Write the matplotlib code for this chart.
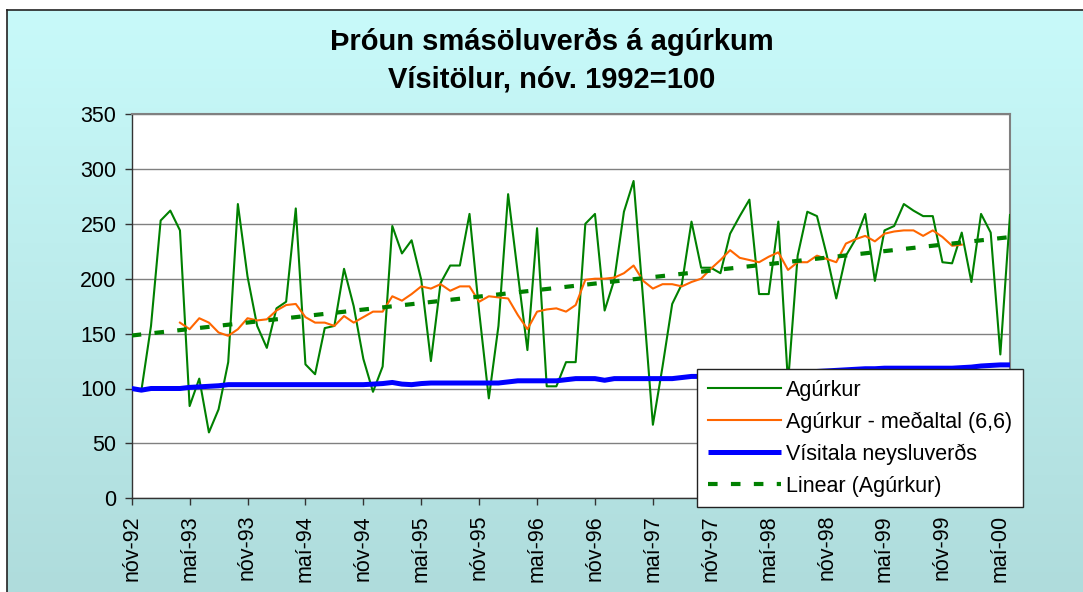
import matplotlib
matplotlib.use('Agg')
import matplotlib.pyplot as plt
import numpy as np

plt.rcParams['font.family'] = ['Liberation Sans', 'DejaVu Sans']

# monthly values, nóv-92 .. jún-00
agurkur = [100, 98, 157, 253, 262, 244, 84, 109, 60, 81,
           124, 268, 202, 157, 137, 173, 179, 264, 122, 113,
           155, 157, 209, 175, 127, 97, 120, 248, 223, 235,
           199, 125, 196, 212, 212, 259, 170, 91, 157, 277,
           205, 135, 246, 102, 102, 124, 124, 250, 259, 171,
           199, 261, 289, 180, 67, 120, 177, 195, 252, 210,
           210, 205, 241, 257, 272, 186, 186, 252, 105, 221,
           261, 257, 222, 182, 221, 236, 259, 198, 244, 248,
           268, 262, 257, 257, 215, 214, 242, 197, 259, 242,
           131, 258]

medaltal = [None, None, None, None, None, 160, 154, 164, 160, 151,
            148, 154, 164, 162, 163, 171, 176, 177, 165, 160,
            160, 157, 166, 160, 165, 170, 170, 184, 180, 186,
            193, 191, 195, 189, 193, 193, 179, 184, 183, 182,
            167, 154, 170, 172, 173, 170, 176, 199, 200, 200,
            201, 205, 212, 198, 191, 195, 195, 193, 197, 200,
            209, 217, 226, 219, 217, 215, 220, 224, 208, 215,
            215, 221, 218, 215, 232, 236, 239, 234, 241, 243,
            244, 244, 239, 244, 238, 230, 231, None, None, None,
            None, None]

visitala = [100, 98.5, 100, 100, 100, 100, 101, 101.5, 102, 102.5,
            103.5, 103.5, 103.5, 103.5, 103.5, 103.5, 103.5, 103.5, 103.5, 103.5,
            103.5, 103.5, 103.5, 103.5, 103.5, 104, 104.5, 105.5, 104, 103.5,
            104.5, 105, 105, 105, 105, 105, 105, 105, 105, 106,
            107, 107, 107, 107, 107, 108, 109, 109, 109, 107.5,
            109, 109, 109, 109, 109, 109, 109, 110, 111, 111,
            111, 111.5, 112, 112, 112.5, 113, 113, 113.5, 114, 114.5,
            115, 115.5, 116, 116.5, 117, 117.5, 118, 118, 118.5, 118.5,
            118.5, 118.5, 118.5, 118.5, 118.5, 118.5, 119, 119.5, 120.5, 121,
            121.5, 121.5]

tick_labels = ['nóv-92', 'maí-93', 'nóv-93', 'maí-94', 'nóv-94', 'maí-95',
               'nóv-95', 'maí-96', 'nóv-96', 'maí-97', 'nóv-97', 'maí-98',
               'nóv-98', 'maí-99', 'nóv-99', 'maí-00']

x = np.arange(len(agurkur))
ma = np.array([np.nan if v is None else v for v in medaltal], dtype=float)
coef = np.polyfit(x, agurkur, 1)
trend = np.polyval(coef, x)

W, H = 1083, 592
fig = plt.figure(figsize=(W / 100, H / 100), dpi=100)

# gradient background with border
bg = fig.add_axes([7 / W, 0, 1 - 7 / W, 1 - 10 / H])
top = np.array([200, 250, 250]) / 255
bot = np.array([175, 220, 220]) / 255
t = np.linspace(0, 1, 256)[:, None]
grad = (top[None, :] * (1 - t) + bot[None, :] * t)[:, None, :]
bg.imshow(grad, aspect='auto', extent=[0, 1, 0, 1])
bg.set_xticks([])
bg.set_yticks([])
for s in ['right', 'bottom']:
    bg.spines[s].set_visible(False)
for s in ['left', 'top']:
    bg.spines[s].set_color('#222222')
    bg.spines[s].set_linewidth(1.2)

ax = fig.add_axes([131.7 / W, 1 - 498.3 / H, (1010 - 131.7) / W, (498.3 - 114) / H])
ax.set_facecolor('white')

l1, = ax.plot(x, agurkur, color='#008000', lw=1.5, zorder=3)
l3, = ax.plot(x, visitala, color='#0000FF', lw=3.6, zorder=4, solid_capstyle='butt')
l2, = ax.plot(x, ma, color='#FF6600', lw=1.5, zorder=5)
l4, = ax.plot(x, trend, color='#008000', lw=3.0, linestyle=(0, (2.3, 3.2)),
              dash_capstyle='butt', zorder=5)

ax.set_xlim(0, len(agurkur) - 1)
ax.set_ylim(0, 350)
ax.set_yticks(np.arange(0, 351, 50))
ax.yaxis.grid(True, color='#808080', lw=1.0)
ax.set_axisbelow(True)
ax.set_xticks(np.arange(0, len(agurkur), 6))
ax.set_xticklabels(tick_labels, rotation=90, va='top', ha='center')
ax.tick_params(axis='both', direction='out', length=5, width=1, labelsize=15.5,
               pad=6, color='#333333')
ax.tick_params(axis='x', pad=7)
for s in ['left', 'bottom']:
    ax.spines[s].set_color('#333333')
    ax.spines[s].set_linewidth(1.0)
for s in ['right', 'top']:
    ax.spines[s].set_color('#808080')
    ax.spines[s].set_linewidth(1.5)

fig.text(552 / W, 1 - 42 / H, 'Þróun smásöluverðs á agúrkum', ha='center', va='center',
         fontsize=21, fontweight='bold')
fig.text(552 / W, 1 - 80 / H, 'Vísitölur, nóv. 1992=100', ha='center', va='center',
         fontsize=21, fontweight='bold')

leg = fig.legend([l1, l2, l3, l4],
                 ['Agúrkur', 'Agúrkur - meðaltal (6,6)', 'Vísitala neysluverðs', 'Linear (Agúrkur)'],
                 loc='upper left', bbox_to_anchor=(697 / W, 1 - 369 / H),
                 bbox_transform=fig.transFigure, fontsize=15.5, frameon=True,
                 fancybox=False, framealpha=1, edgecolor='#222222',
                 handlelength=3.4, handletextpad=0.25, labelspacing=0.5,
                 borderpad=0.5, borderaxespad=0)
leg.get_frame().set_linewidth(1.0)
leg.set_zorder(10)

fig.savefig('out.png', dpi=100)
